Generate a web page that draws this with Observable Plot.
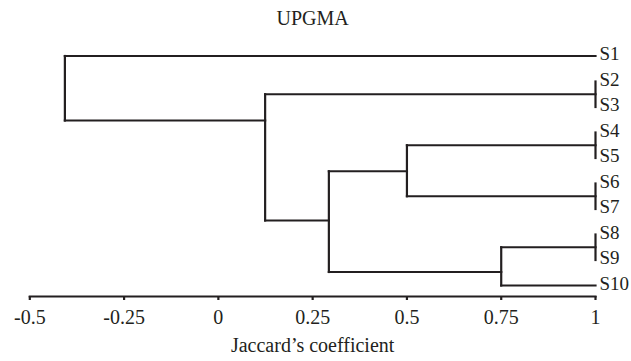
<!DOCTYPE html>
<html>
<head>
<meta charset="utf-8">
<script src="https://cdn.jsdelivr.net/npm/d3@7"></script>
<script src="https://cdn.jsdelivr.net/npm/@observablehq/plot@0.6"></script>
<style>
  html, body { margin: 0; padding: 0; background: #fff; }
  svg, svg text { font-family: "Liberation Serif", "Times New Roman", serif !important; }
</style>
</head>
<body>
<div id="chart"></div>
<script>
// ---- data ----
const title = "UPGMA";
const xLabel = "Jaccard\u2019s coefficient";
const leaves = ["S1", "S2", "S3", "S4", "S5", "S6", "S7", "S8", "S9", "S10"];
const leafRank = [1, 2, 3, 4, 5, 6, 7, 8, 9, 10];
const leafHeight = 1;
// internal nodes (merge order)
const nodeNames  = ["n23", "n45", "n67", "n89", "n4567", "n8910", "n4to10", "n2to10", "root"];
const nodeLeft   = ["S2",  "S4",  "S6",  "S8",  "n45",   "n89",   "n4567",  "n23",    "S1"];
const nodeRight  = ["S3",  "S5",  "S7",  "S9",  "n67",   "S10",   "n8910",  "n4to10", "n2to10"];
const nodeHeight = [1,     1,     1,     1,     0.5,     0.75,    0.293,    0.124,    -0.407];
const nodeY      = [2.5,   4.5,   6.5,   8.5,   5.52,    9.47,    7.45,     3.53,     null];
const xTicks = [-0.5, -0.25, 0, 0.25, 0.5, 0.75, 1];
const xTickLabels = ["-0.5", "-0.25", "0", "0.25", "0.5", "0.75", "1"];

// ---- build dendrogram segments ----
const pos = new Map();
leaves.forEach((s, i) => pos.set(s, {x: leafHeight, y: leafRank[i]}));
const segs = [];
nodeNames.forEach((n, i) => {
  const L = pos.get(nodeLeft[i]), R = pos.get(nodeRight[i]);
  const h = nodeHeight[i];
  const y = nodeY[i] == null ? (L.y + R.y) / 2 : nodeY[i];
  pos.set(n, {x: h, y});
  segs.push({x1: h, x2: h, y1: L.y, y2: R.y});
  if (L.x !== h) segs.push({x1: L.x, x2: h, y1: L.y, y2: L.y});
  if (R.x !== h) segs.push({x1: R.x, x2: h, y1: R.y, y2: R.y});
});

const ink = "#231f20";
const font = "Liberation Serif";

const chart = Plot.plot({
  width: 631,
  height: 361,
  marginLeft: 29.3,
  marginRight: 36,
  marginTop: 40,
  marginBottom: 65,
  style: {fontFamily: font, fontSize: "20px", color: ink, background: "#fff"},
  x: {domain: [-0.5, 1], axis: null},
  y: {domain: [1, 10], range: [55.5, 285], axis: null},
  marks: [
    Plot.frame({anchor: "bottom", stroke: ink, strokeWidth: 2.2}),
    Plot.axisX({
      ticks: xTicks,
      tickFormat: (d) => xTickLabels[xTicks.indexOf(d)],
      tickSize: 4,
      tickPadding: 9,
      strokeWidth: 2.2,
      stroke: ink,
      fill: ink,
      fontSize: 20,
      fontFamily: font,
      label: null
    }),
    Plot.link(segs, {x1: "x1", y1: "y1", x2: "x2", y2: "y2", stroke: ink, strokeWidth: 2.2, strokeLinecap: "square"}),
    Plot.text(leaves, {
      x: () => leafHeight,
      y: (d, i) => leafRank[i],
      text: (d) => d,
      textAnchor: "start",
      dx: 4,
      dy: -2,
      fontSize: 19,
      fontFamily: font,
      fill: ink
    }),
    Plot.text([title], {frameAnchor: "top", text: (d) => d, dy: -30, fontSize: 20, fontFamily: font, fill: ink}),
    Plot.text([xLabel], {frameAnchor: "bottom", text: (d) => d, dy: 55, fontSize: 20, fontFamily: font, fill: ink})
  ]
});
document.getElementById("chart").appendChild(chart);
</script>
</body>
</html>
